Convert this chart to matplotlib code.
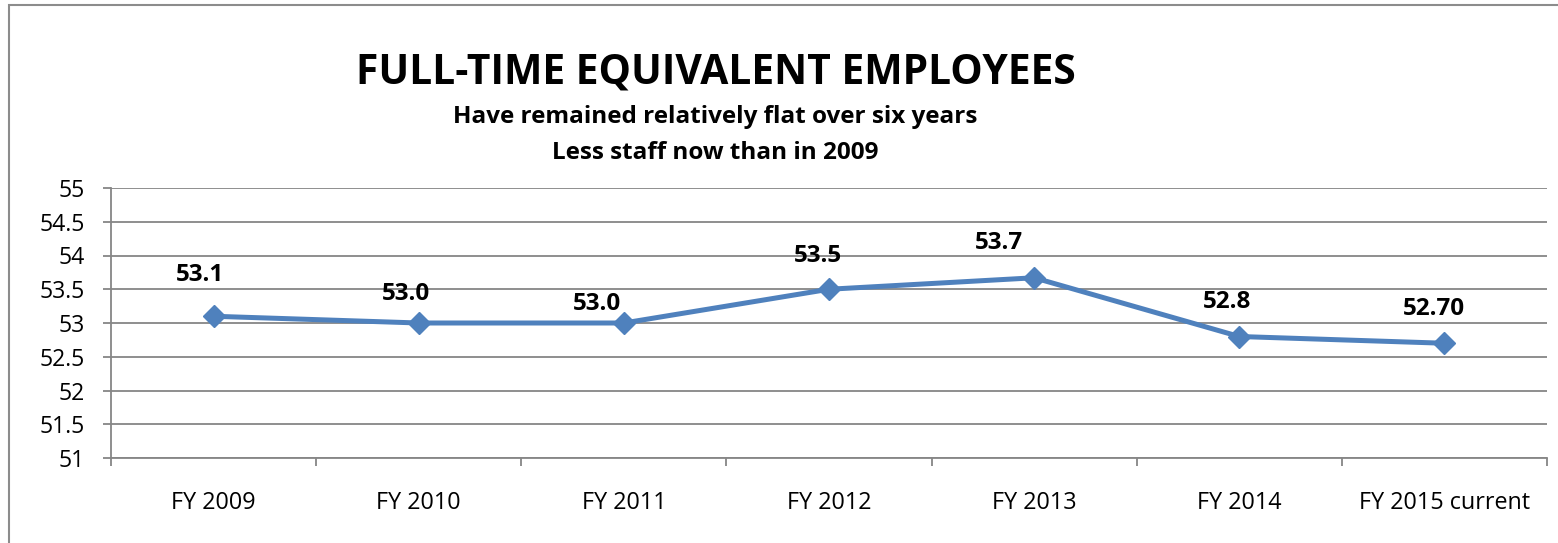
import matplotlib.pyplot as plt
from matplotlib.patches import Rectangle
import numpy as np

# Chart data
years = ['FY 2009', 'FY 2010', 'FY 2011', 'FY 2012', 'FY 2013', 'FY 2014', 'FY 2015 current']
fte = [53.1, 53.0, 53.0, 53.5, 53.67, 52.8, 52.7]
labels = ['53.1', '53.0', '53.0', '53.5', '53.7', '52.8', '52.70']
yticks = [51, 51.5, 52, 52.5, 53, 53.5, 54, 54.5, 55]
ytick_labels = ['51', '51.5', '52', '52.5', '53', '53.5', '54', '54.5', '55']

# label offsets (pixels) as placed in the original
label_dx = [-14, -13, -27, -11, -35, -12, -10]
label_dy = [41, 29, 19, 33, 35, 34, 34]

plt.rcParams['font.family'] = ['Open Sans', 'DejaVu Sans']

W, H = 1558, 543
fig = plt.figure(figsize=(W / 100, H / 100), dpi=100)
ax = fig.add_axes([111 / W, 1 - 458 / H, (1547 - 111) / W, (458 - 188) / H])

# outer chart border
fig.patches.append(Rectangle((9 / W, -0.05), 1.2, 1 - 5 / H + 0.05, transform=fig.transFigure,
                             fill=False, edgecolor='#8c8c8c', linewidth=1.5))

x = np.arange(len(years))
ax.plot(x, fte, color='#4F81BD', linewidth=3.6, marker='D', markersize=11,
        markerfacecolor='#4F81BD', markeredgecolor='#4F81BD', zorder=3)

for i in range(len(x)):
    ax.annotate(labels[i], (x[i], fte[i]), xytext=(label_dx[i] * 0.72, label_dy[i] * 0.72),
                textcoords='offset points', ha='center', va='center',
                fontsize=17.5, fontweight='bold', color='black')

ax.set_xlim(-0.5, len(years) - 0.5)
ax.set_ylim(51, 55)
ax.set_yticks(yticks)
ax.set_yticklabels(ytick_labels)
ax.grid(axis='y', color='#868686', linewidth=1.3)
ax.set_axisbelow(True)

ax.set_xticks(x)
ax.set_xticklabels(years)
ax.set_xticks(np.arange(-0.5, len(years)), minor=True)
ax.tick_params(axis='x', which='major', length=0, pad=24, labelsize=16.8)
ax.tick_params(axis='x', which='minor', length=6, width=1.3, color='#868686', direction='out')
ax.tick_params(axis='y', length=6, width=1.3, color='#868686', labelsize=16.6, pad=13)

for s in ['top', 'right']:
    ax.spines[s].set_visible(False)
for s in ['left', 'bottom']:
    ax.spines[s].set_color('#868686')
    ax.spines[s].set_linewidth(1.3)

fig.text(716 / W, 1 - 73 / H, 'FULL-TIME EQUIVALENT EMPLOYEES', ha='center', va='center',
         fontsize=29.3, fontweight='bold')
fig.text(715 / W, 1 - 117 / H, 'Have remained relatively flat over six years', ha='center',
         va='center', fontsize=17.5, fontweight='bold')
fig.text(715 / W, 1 - 153 / H, 'Less staff now than in 2009', ha='center', va='center',
         fontsize=17.5, fontweight='bold')

fig.savefig('out.png', dpi=100)
